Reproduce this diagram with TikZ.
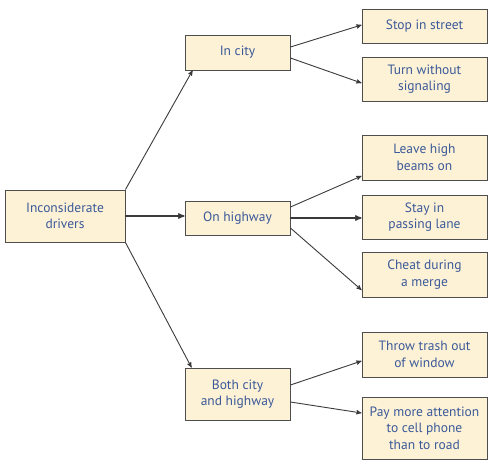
\documentclass[tikz,border=0pt]{standalone}
\usepackage{fontspec}
\setmainfont{PT Sans}
\usepackage{tikz}
\usetikzlibrary{arrows}
\usetikzlibrary{positioning}
\definecolor{boxfill}{HTML}{FDF1D6}
\definecolor{boxtext}{HTML}{3B5A99}
\definecolor{edge}{HTML}{3A3A3A}
\tikzset{box/.style = {draw = edge!90, fill = boxfill, line width = 0.9pt,
    rectangle, align = center, inner sep = 0, text = boxtext,
    font = \fontsize{13.5}{16.5}\selectfont}}
\tikzset{conn/.style = {draw = edge, line width = 0.9pt, -stealth'}}

\begin{document}
\begin{tikzpicture}[x = 1pt, y = -1pt]
    \useasboundingbox (0, 0) rectangle (493, 463);
    \node [box, minimum width = 120, minimum height = 52] (root) at (65, 216) {Inconsiderate\\drivers};
    \node [box, minimum width = 105, minimum height = 35] (city) at (237.5, 52.5) {In city};
    \node [box, minimum width = 105, minimum height = 34] (hwy) at (237.5, 218) {On highway};
    \node [box, minimum width = 105, minimum height = 52] (both) at (237.5, 394) {Both city\\and highway};
    \node [box, minimum width = 125, minimum height = 34] (stop) at (424.5, 26) {Stop in street};
    \node [box, minimum width = 125, minimum height = 44] (turn) at (424.5, 79) {Turn without\\signaling};
    \node [box, minimum width = 125, minimum height = 45] (leave) at (424.5, 157.5) {Leave high\\beams on};
    \node [box, minimum width = 125, minimum height = 44] (stay) at (424.5, 217) {Stay in\\passing lane};
    \node [box, minimum width = 125, minimum height = 45] (cheat) at (424.5, 274.5) {Cheat during\\a merge};
    \node [box, minimum width = 125, minimum height = 45] (trash) at (424.5, 354.5) {Throw trash out\\of window};
    \node [box, minimum width = 125, minimum height = 62] (pay) at (424.5, 428) {Pay more attention\\to cell phone\\than to road};

    \draw [conn] (root.north east) -- ([xshift = 8]city.south west);
    \draw [conn, line width = 1.3pt] (root.east) -- (root.east -| hwy.west);
    \draw [conn] (root.south east) -- ([xshift = 7]both.north west);

    \draw [conn] ([yshift = 5.5]city.east) -- ([yshift = 1]stop.west);
    \draw [conn] ([yshift = -5.5]city.east) -- ([yshift = -4]turn.west);

    \draw [conn] ([yshift = 11]hwy.east) -- ([yshift = -18.5]leave.west);
    \draw [conn, line width = 1.3pt] (hwy.east) -- (hwy.east -| stay.west);
    \draw [conn] ([yshift = -10]hwy.east) -- ([yshift = -15.5]cheat.west);

    \draw [conn] ([yshift = 9]both.east) -- ([yshift = -6.5]trash.west);
    \draw [conn] ([yshift = -8]both.east) -- ([yshift = 15]pay.west);
\end{tikzpicture}
\end{document}
